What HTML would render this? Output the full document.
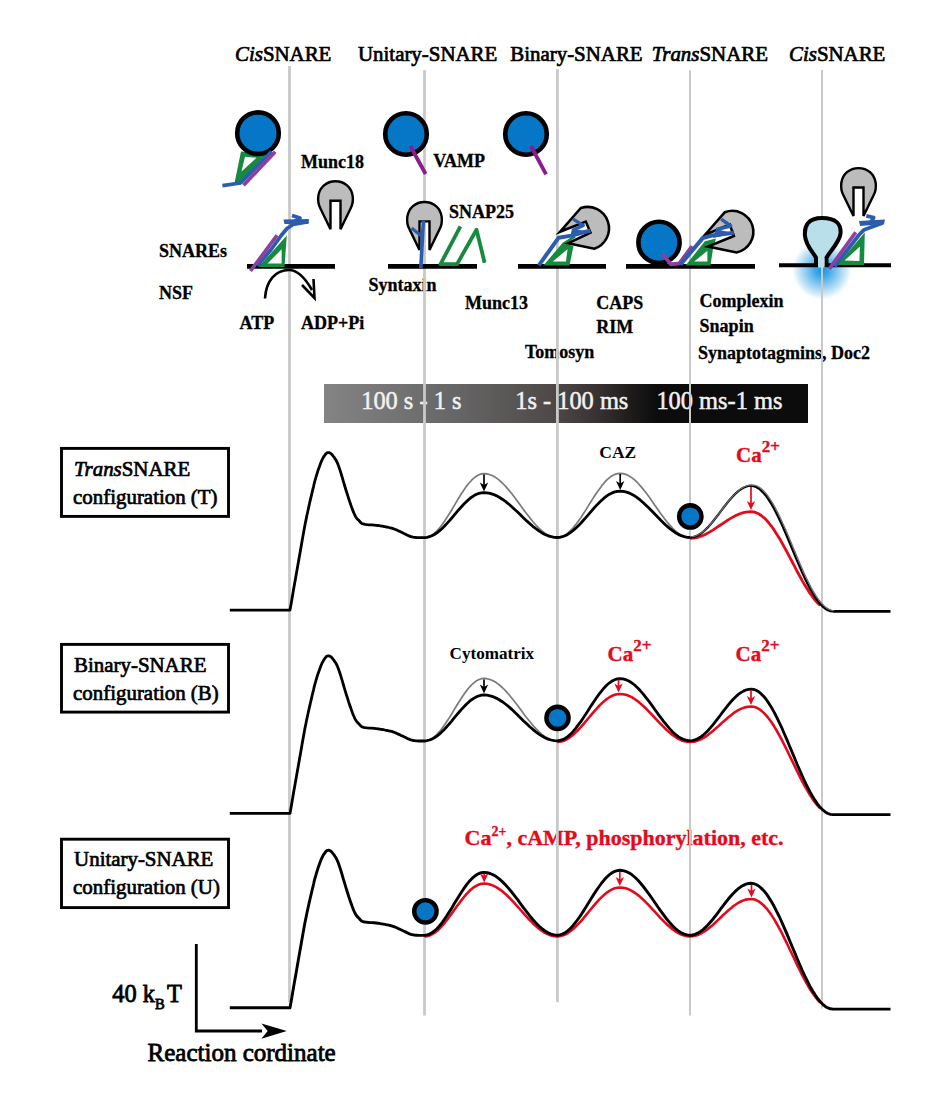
<!DOCTYPE html>
<html><head><meta charset="utf-8"><style>
html,body{margin:0;padding:0;background:#fff;}
svg{display:block;font-family:"Liberation Serif",serif;}
</style></head><body>
<svg width="944" height="1104" viewBox="0 0 944 1104">
<rect width="944" height="1104" fill="#fff"/>
<defs><linearGradient id="bar" x1="0" x2="1" y1="0" y2="0"><stop offset="0" stop-color="#848484"/><stop offset="0.28" stop-color="#666565"/><stop offset="0.48" stop-color="#4d4847"/><stop offset="0.57" stop-color="#363130"/><stop offset="0.64" stop-color="#1c1919"/><stop offset="0.69" stop-color="#0c0c0c"/><stop offset="1" stop-color="#0c0c0c"/></linearGradient><radialGradient id="glow" cx="0.5" cy="0.5" r="0.5"><stop offset="0" stop-color="#1596de"/><stop offset="0.22" stop-color="#3aa7e6"/><stop offset="0.55" stop-color="#8fcbf0"/><stop offset="0.85" stop-color="#d6edfa"/><stop offset="1" stop-color="#ffffff"/></radialGradient></defs>
<rect x="324" y="384" width="484" height="39" fill="url(#bar)"/>
<circle cx="822" cy="270" r="29.5" fill="url(#glow)"/>
<g font-size="24.4" fill="#f2f2f2" stroke="#f2f2f2" stroke-width="0.5"><text x="361.2" y="409.2">100 s - 1 s</text><text x="515.2" y="409.2">1s - 100 ms</text><text x="656.4" y="409.2">100 ms-1 ms</text></g>
<g font-size="20.9" fill="#000" stroke="#000" stroke-width="0.7"><text x="235" y="61.1"><tspan font-style="italic">Cis</tspan>SNARE</text><text x="358" y="61.1">Unitary-SNARE</text><text x="510.3" y="61.1">Binary-SNARE</text><text x="651.8" y="61.1"><tspan font-style="italic">Trans</tspan>SNARE</text><text x="789" y="61.1"><tspan font-style="italic">Cis</tspan>SNARE</text></g>
<g font-size="18" font-weight="bold" fill="#000" stroke="#000" stroke-width="0.3"><text x="301.1" y="167.8">Munc18</text><text x="158.9" y="256.5">SNAREs</text><text x="158.9" y="298.9">NSF</text><text x="239.6" y="329.4">ATP</text><text x="301.1" y="329.4">ADP+Pi</text><text x="433.3" y="167.4">VAMP</text><text x="449.1" y="217.5">SNAP25</text><text x="368.5" y="290.7">Syntaxin</text><text x="465.1" y="308.5">Munc13</text><text x="596.2" y="309.4">CAPS</text><text x="596.2" y="332.7">RIM</text><text x="525.0" y="357.7">Tomosyn</text><text x="699.6" y="306.9">Complexin</text><text x="699.6" y="332.3">Snapin</text><text x="697.9" y="359">Synaptotagmins, Doc2</text></g>
<g stroke="#000" stroke-width="0.7"><text x="74.1" y="475.6" font-size="20.9"><tspan font-style="italic">Trans</tspan>SNARE</text><text x="73.1" y="503.6" font-size="20.9">configuration (T)</text></g>
<g stroke="#000" stroke-width="0.7"><text x="74.1" y="671.8" font-size="20.9">Binary-SNARE</text><text x="73.1" y="699.7" font-size="20.9">configuration (B)</text></g>
<g stroke="#000" stroke-width="0.7"><text x="74.1" y="866.4" font-size="20.9">Unitary-SNARE</text><text x="73.1" y="894.4" font-size="20.9">configuration (U)</text></g>
<g font-weight="bold"><text x="599.3" y="458.4" font-size="17.5">CAZ</text><text x="449.6" y="658.9" font-size="17.1">Cytomatrix</text><g fill="#e30a1c"><text x="736" y="462.3" font-size="21" stroke="#e30a1c" stroke-width="0.35">Ca<tspan font-size="17" dy="-10">2+</tspan></text><text x="607.6" y="660.5" font-size="21" stroke="#e30a1c" stroke-width="0.35">Ca<tspan font-size="17" dy="-10">2+</tspan></text><text x="735.6" y="660.5" font-size="21" stroke="#e30a1c" stroke-width="0.35">Ca<tspan font-size="17" dy="-10">2+</tspan></text><text x="464.5" y="844.5" font-size="22" stroke="#e30a1c" stroke-width="0.35">Ca<tspan font-size="14" dy="-9">2+</tspan><tspan dy="9">, cAMP, phosphorylation, etc.</tspan></text></g></g>
<g stroke="#000" stroke-width="0.8"><text x="112.3" y="1001.8" font-size="24.4">40 k</text><text x="155" y="1009.2" font-size="14.5">B</text><text x="167" y="1001.8" font-size="24.4">T</text></g>
<text x="147.6" y="1061.4" font-size="25" stroke="#000" stroke-width="0.8">Reaction cordinate</text>
<line x1="289.5" y1="66" x2="289.5" y2="1002" stroke="#c8c9c8" stroke-width="2.8"/>
<line x1="424.5" y1="70.2" x2="424.5" y2="1015.5" stroke="#c8c9c8" stroke-width="2.8"/>
<line x1="557.4" y1="69.2" x2="557.4" y2="1002.2" stroke="#c8c9c8" stroke-width="2.8"/>
<line x1="690" y1="70.2" x2="690" y2="1015.5" stroke="#c8c9c8" stroke-width="2"/>
<line x1="822" y1="70" x2="822" y2="1008.6" stroke="#c8c9c8" stroke-width="2"/>
<polygon points="241,151.5 267,154 239.5,183 234.5,183" fill="#178a3e"/>
<polygon points="245,156.8 256.5,157.8 241.5,171.5" fill="#fff"/>
<circle cx="258" cy="133.2" r="20.8" fill="#0577c6" stroke="#000" stroke-width="4.6"/>
<polyline points="222.4,185.6 240.5,183 271.5,151.5" fill="none" stroke="#2c5cad" stroke-width="3.6" stroke-linejoin="round" stroke-linecap="butt" />
<polyline points="243.5,185.2 275.2,151.8" fill="none" stroke="#8e40a0" stroke-width="3.8" stroke-linejoin="round" stroke-linecap="butt" />
<line x1="247" y1="266.4" x2="335" y2="266.4" stroke="#000" stroke-width="4.8"/>
<polygon points="258.5,267 286.8,235.5 284.5,267" fill="#178a3e"/>
<polygon points="267.5,263.6 281.6,249.3 281.6,263.6" fill="#fff"/>
<polyline points="257.5,265.8 270.7,250 281.2,235.5 287,228.5 293,224.5 308.6,221.6" fill="none" stroke="#2c5cad" stroke-width="3.8" stroke-linejoin="round" stroke-linecap="butt" />
<polygon points="283.5,219.6 309,219 308,224 284.5,224" fill="#2c5cad"/>
<polyline points="292,215.5 300,218 290,224.5" fill="none" stroke="#2c5cad" stroke-width="3.8" stroke-linejoin="round" stroke-linecap="butt" />
<polyline points="250.5,271 277,235.3" fill="none" stroke="#8e40a0" stroke-width="3.6" stroke-linejoin="round" stroke-linecap="butt" />
<path d="M-5.0,29.5 L-15.2,8.5 C-17.4,4.5 -17.6,0 -17.2,-3.5 C-16,-12.5 -9,-18.4 0,-18.4 C9,-18.4 16,-12.5 17.2,-3.5 C17.6,0 17.4,4.5 15.2,8.5 L5.0,29.5 L5.0,1 L-5.0,1 Z" transform="translate(335.5,199.7)" fill="#bcbcbc" stroke="#000" stroke-width="2.4" stroke-linejoin="miter" stroke-miterlimit="4"/>
<path d="M265,298.5 C266,280 276,270 289,270 C297,270 304,276 312,290" fill="none" stroke="#000" stroke-width="2.6"/>
<path d="M313.5,279 L314.5,298 L302,285" fill="none" stroke="#000" stroke-width="2.6"/>
<circle cx="406" cy="134" r="20.8" fill="#0577c6" stroke="#000" stroke-width="4.6"/>
<polyline points="410.3,146 425.6,174" fill="none" stroke="#8a1c8e" stroke-width="3.8" stroke-linejoin="round" stroke-linecap="butt" />
<circle cx="526" cy="134" r="20.8" fill="#0577c6" stroke="#000" stroke-width="4.6"/>
<polyline points="530.9,146 546.1,174.4" fill="none" stroke="#8a1c8e" stroke-width="3.8" stroke-linejoin="round" stroke-linecap="butt" />
<line x1="388" y1="266.4" x2="477" y2="266.4" stroke="#000" stroke-width="4.8"/>
<path d="M-5.0,29.5 L-15.2,8.5 C-17.4,4.5 -17.6,0 -17.2,-3.5 C-16,-12.5 -9,-18.4 0,-18.4 C9,-18.4 16,-12.5 17.2,-3.5 C17.6,0 17.4,4.5 15.2,8.5 L5.0,29.5 L5.0,1 L-5.0,1 Z" transform="translate(424.5,220.4)" fill="#bcbcbc" stroke="#000" stroke-width="2.4" stroke-linejoin="miter" stroke-miterlimit="4"/>
<polyline points="420.8,268 423.4,220.5" fill="none" stroke="#2c5cad" stroke-width="3.6" stroke-linejoin="round" stroke-linecap="butt" />
<polyline points="411.5,228 421.5,236" fill="none" stroke="#2c5cad" stroke-width="3.2" stroke-linejoin="round" stroke-linecap="butt" />
<polyline points="460.4,226.4 440.5,264.2 457,264.2 476.5,229.7 484.6,262.7" fill="none" stroke="#178a3e" stroke-width="3.8" stroke-linejoin="round" stroke-linecap="butt" stroke-linejoin="miter"/>
<line x1="518" y1="266.4" x2="606" y2="266.4" stroke="#000" stroke-width="4.8"/>
<polygon points="543.5,265.5 562.5,243 573.5,246 569.5,265.5" fill="#178a3e"/>
<polyline points="563,244 575,236.4" fill="none" stroke="#178a3e" stroke-width="2.6" stroke-linejoin="round" stroke-linecap="butt" />
<polygon points="552.8,261.4 567.6,249.2 565.9,261.4" fill="#fff"/>
<path d="M560,231.8 L580.8,208 A20.5,20.5 0 1 1 594.3,248.7 L568,243.2 L590.5,232.6 L585.8,221.6 Z" fill="#bcbcbc" stroke="#000" stroke-width="2.6" stroke-linejoin="miter" stroke-miterlimit="10"/>
<polyline points="538.8,265.3 558.7,237.7 571.4,235.6 590.5,230.5" fill="none" stroke="#2c5cad" stroke-width="4.0" stroke-linejoin="round" stroke-linecap="butt" />
<polygon points="570,237 591,231.5 572,229" fill="#2c5cad"/>
<polyline points="572.3,230.5 583.3,225.4 573.1,219.1" fill="none" stroke="#2c5cad" stroke-width="3.4" stroke-linejoin="round" stroke-linecap="butt" />
<line x1="626" y1="266.4" x2="755" y2="266.4" stroke="#000" stroke-width="4.8"/>
<circle cx="659" cy="242.4" r="20.6" fill="#0577c6" stroke="#000" stroke-width="4.6"/>
<polygon points="685.5,265.5 704.8,241.3 716,238.5 713,248.7 710.5,265.5" fill="#178a3e"/>
<polygon points="694.2,261.6 707.4,250.8 707.4,261.6" fill="#fff"/>
<path d="M704.8,235 L724.9,212.2 A21,21 0 1 1 736.6,252.4 L708,246.6 L733.9,236 L729.7,224.4 Z" fill="#bcbcbc" stroke="#000" stroke-width="2.6" stroke-linejoin="miter" stroke-miterlimit="10"/>
<polyline points="662.4,254 670.9,264.4 679.4,263.4 692.1,246.1" fill="none" stroke="#8e40a0" stroke-width="3.8" stroke-linejoin="round" stroke-linecap="butt" />
<polyline points="680.4,264.6 702.7,238.1 711.7,235.5 733.9,232.8" fill="none" stroke="#2c5cad" stroke-width="4.0" stroke-linejoin="round" stroke-linecap="butt" />
<polygon points="713,238 734.5,233.5 716,229" fill="#2c5cad"/>
<polyline points="716.4,229.5 730.7,226 721.2,219.1" fill="none" stroke="#2c5cad" stroke-width="3.4" stroke-linejoin="round" stroke-linecap="butt" />
<path d="M779,265.3 L816,265.3 L816,257.7 C813,252 806,246 805,236 C804,226 808,218 822,218 C836,218 841,224 840.6,233 C840,242 830,251 826.5,257.7 L826.5,265.3 L891,265.3" fill="#b9e0ea" stroke="#000" stroke-width="4"/>
<rect x="818.2" y="258" width="6.2" height="9.5" fill="#b9e0ea"/>
<polygon points="837,265 864.8,232.5 864,265" fill="#178a3e"/>
<polygon points="844.6,260.6 859.9,246.6 859.4,260.9" fill="#fff"/>
<path d="M-5.0,29.5 L-15.2,8.5 C-17.4,4.5 -17.6,0 -17.2,-3.5 C-16,-12.5 -9,-18.4 0,-18.4 C9,-18.4 16,-12.5 17.2,-3.5 C17.6,0 17.4,4.5 15.2,8.5 L5.0,29.5 L5.0,1 L-5.0,1 Z" transform="translate(858.5,186.5)" fill="#bcbcbc" stroke="#000" stroke-width="2.4" stroke-linejoin="miter" stroke-miterlimit="4"/>
<polyline points="834.5,266.7 858.9,235 864.2,229.7 883.2,222.8" fill="none" stroke="#2c5cad" stroke-width="3.8" stroke-linejoin="round" stroke-linecap="butt" />
<polygon points="859,221 885,219.5 884,224 860,226" fill="#2c5cad"/>
<polyline points="866.3,215.9 873.7,217.5 869.4,224.9" fill="none" stroke="#2c5cad" stroke-width="3.8" stroke-linejoin="round" stroke-linecap="butt" />
<polyline points="829.2,268.9 855.7,232.3" fill="none" stroke="#8e40a0" stroke-width="3.6" stroke-linejoin="round" stroke-linecap="butt" />
<rect x="61.5" y="448.4" width="167" height="68" fill="none" stroke="#000" stroke-width="2.9"/>
<rect x="61.5" y="644.4" width="167" height="67.7" fill="none" stroke="#000" stroke-width="2.9"/>
<rect x="61.5" y="839.2" width="167" height="68.4" fill="none" stroke="#000" stroke-width="2.9"/>
<polyline points="424.5,537.5 427,537.2 429.5,536.4 431.9,535.1 434.4,533.2 436.9,530.9 439.4,528.1 441.9,525 444.3,521.5 446.8,517.8 449.3,513.8 451.8,509.7 454.2,505.6 456.7,501.4 459.2,497.3 461.7,493.3 464.2,489.6 466.6,486.1 469.1,483 471.6,480.2 474.1,477.9 476.6,476 479,474.7 481.5,473.9 484,473.6 487.1,473.9 490.1,474.7 493.1,476 496.2,477.9 499.2,480.2 502.3,483 505.4,486.1 508.4,489.6 511.5,493.3 514.5,497.3 517.6,501.4 520.6,505.6 523.6,509.7 526.7,513.8 529.8,517.8 532.8,521.5 535.9,525 538.9,528.1 542,530.9 545,533.2 548.1,535.1 551.1,536.4 554.2,537.2 557.2,537.5 559.8,537.2 562.4,536.4 565.1,535.1 567.7,533.2 570.3,530.9 572.9,528.1 575.5,524.9 578.1,521.5 580.8,517.7 583.4,513.7 586,509.6 588.6,505.4 591.2,501.2 593.8,497.1 596.5,493.1 599.1,489.4 601.7,485.9 604.3,482.7 606.9,479.9 609.5,477.6 612.1,475.7 614.8,474.4 617.4,473.6 620,473.3 622.9,473.6 625.8,474.4 628.8,475.7 631.7,477.6 634.6,479.9 637.5,482.7 640.4,485.9 643.3,489.4 646.2,493.1 649.2,497.1 652.1,501.2 655,505.4 657.9,509.6 660.8,513.7 663.8,517.7 666.7,521.5 669.6,524.9 672.5,528.1 675.4,530.9 678.3,533.2 681.2,535.1 684.2,536.4 687.1,537.2 690,537.5" fill="none" stroke="#7a7a7a" stroke-width="1.7" stroke-linejoin="round" stroke-linecap="butt" />
<polyline points="690,538.3 692.5,538.2 695.1,537.8 697.6,537.3 700.2,536.5 702.7,535.6 705.2,534.4 707.8,533.1 710.3,531.6 712.9,530.1 715.4,528.4 718,526.7 720.5,525 723,523.3 725.6,521.6 728.1,519.9 730.7,518.4 733.2,516.9 735.8,515.6 738.3,514.4 740.8,513.5 743.4,512.7 745.9,512.2 748.5,511.8 751,511.7 753.6,511.9 756.1,512.7 758.7,513.8 761.2,515.5 763.8,517.6 766.4,520.1 768.9,523 771.5,526.3 774.1,529.9 776.6,533.9 779.2,538.1 781.8,542.5 784.3,547.1 786.9,551.8 789.4,556.7 792,561.5 794.6,566.4 797.1,571.3 799.7,576 802.2,580.6 804.8,585 807.4,589.2 809.9,593.2 812.5,596.8 815.1,600.1 817.6,603 820.2,605.5" fill="none" stroke="#e30a1c" stroke-width="2.8" stroke-linejoin="round" stroke-linecap="butt" />
<polyline points="229.8,610.1 290,610.1 291.5,601.7 293.5,589.7 296,575.7 298.5,561.4 300.8,548.4 302.5,538.5 303.7,531.9 304.5,527.4 305.1,524.2 305.6,521.8 306.1,519.4 306.7,516.3 307.5,512.7 308.3,509 309.1,505.4 309.9,501.8 310.7,498.4 311.5,495.1 312.2,492 312.9,489.1 313.6,486.3 314.2,483.5 314.9,480.8 315.7,478.1 316.5,475.3 317.4,472.4 318.3,469.6 319.3,466.9 320.2,464.4 321,462.2 321.8,460.4 322.6,458.8 323.3,457.5 324,456.3 324.7,455.4 325.3,454.5 325.9,453.8 326.4,453.3 326.9,452.9 327.4,452.7 327.9,452.6 328.4,452.6 329,452.6 329.5,452.8 330.1,453 330.8,453.4 331.4,454 332.2,454.8 333,455.9 334,457.1 334.9,458.5 336,460.1 337,462.1 338,464.4 339,467.2 340.1,470.4 341.2,474 342.3,477.6 343.3,481.2 344.3,484.5 345.2,487.5 346.1,490.5 347,493.3 347.9,496.1 348.7,498.8 349.6,501.4 350.5,504 351.4,506.6 352.3,509.1 353.2,511.4 354.1,513.5 354.9,515.3 355.7,516.7 356.4,517.8 357.1,518.7 357.8,519.4 358.5,520.1 359.2,520.8 359.8,521.5 360.3,522.1 360.8,522.7 361.4,523.2 362.3,523.6 363.5,524 365.2,524.3 367.3,524.6 369.6,524.8 372,524.9 374.2,525.1 376.2,525.3 377.9,525.5 379.3,525.7 380.7,526 382,526.2 383.3,526.4 384.7,526.7 386.1,527 387.5,527.2 388.8,527.5 390.2,527.8 391.6,528.1 393.1,528.6 394.6,529.2 396.2,529.8 397.8,530.6 399.4,531.3 401,532.1 402.5,532.8 404,533.5 405.5,534.2 406.9,534.9 408.3,535.6 409.6,536.1 410.9,536.6 412,536.9 413.1,537.2 414,537.3 414.9,537.4 415.9,537.5 417,537.6 418.3,537.7 419.7,537.7 421.1,537.7 422.5,537.7 423.7,537.7 424.5,537.7 427,537.3 429.5,536.7 431.9,535.8 434.4,534.5 436.9,532.9 439.4,530.9 441.9,528.7 444.3,526.3 446.8,523.6 449.3,520.9 451.8,518 454.2,515.1 456.7,512.1 459.2,509.2 461.7,506.5 464.2,503.8 466.6,501.4 469.1,499.2 471.6,497.2 474.1,495.6 476.6,494.3 479,493.4 481.5,492.8 484,492.6 487.1,492.8 490.1,493.4 493.1,494.3 496.2,495.6 499.2,497.2 502.3,499.2 505.4,501.4 508.4,503.8 511.5,506.5 514.5,509.2 517.6,512.1 520.6,515 523.6,518 526.7,520.9 529.8,523.6 532.8,526.3 535.9,528.7 538.9,530.9 542,532.9 545,534.5 548.1,535.8 551.1,536.7 554.2,537.3 557.2,537.5 559.8,537.3 562.4,536.7 565.1,535.7 567.7,534.4 570.3,532.7 572.9,530.7 575.5,528.4 578.1,525.9 580.8,523.2 583.4,520.3 586,517.3 588.6,514.3 591.2,511.3 593.8,508.3 596.5,505.4 599.1,502.7 601.7,500.2 604.3,497.9 606.9,495.9 609.5,494.2 612.1,492.9 614.8,491.9 617.4,491.3 620,491.1 622.9,491.3 625.8,491.9 628.8,492.9 631.7,494.2 634.6,495.9 637.5,497.9 640.4,500.2 643.3,502.7 646.2,505.4 649.2,508.3 652.1,511.3 655,514.3 657.9,517.3 660.8,520.3 663.8,523.2 666.7,525.9 669.6,528.4 672.5,530.7 675.4,532.7 678.3,534.4 681.2,535.7 684.2,536.7 687.1,537.3 690,537.5" fill="none" stroke="#000" stroke-width="2.8" stroke-linejoin="round" stroke-linecap="butt" />
<polyline points="690,537.5 692.5,537.3 695.1,536.6 697.6,535.5 700.2,534 702.7,532.2 705.2,529.9 707.8,527.4 710.3,524.6 712.9,521.5 715.4,518.3 718,515 720.5,511.7 723,508.3 725.6,505 728.1,501.8 730.7,498.7 733.2,495.9 735.8,493.4 738.3,491.1 740.8,489.3 743.4,487.8 745.9,486.7 748.5,486 751,485.8 753.6,486.1 756.1,487 758.7,488.5 761.2,490.6 763.8,493.2 766.4,496.4 768.9,500.1 771.5,504.2 774.1,508.8 776.6,513.7 779.2,519 781.8,524.6 784.3,530.4 786.9,536.3 789.4,542.4 792,548.6 794.6,554.8 797.1,560.9 799.7,566.8 802.2,572.6 804.8,578.2 807.4,583.5 809.9,588.4 812.5,593 815.1,597.1 817.6,600.8 820.2,604 822.8,606.6 825.3,608.7 827.9,610.2 830.4,611.1 833,611.4" fill="none" stroke="#000" stroke-width="2.2" stroke-linejoin="round" stroke-linecap="butt" />
<polyline points="833,611.4 890.5,611.4" fill="none" stroke="#000" stroke-width="2.8" stroke-linejoin="round" stroke-linecap="butt" />
<polyline points="690.6,536.7 693.1,536.5 695.7,535.8 698.2,534.7 700.8,533.2 703.3,531.4 705.9,529.1 708.4,526.6 710.9,523.8 713.5,520.7 716,517.5 718.6,514.2 721.1,510.9 723.6,507.5 726.2,504.2 728.7,501 731.3,497.9 733.8,495.1 736.4,492.6 738.9,490.3 741.4,488.5 744,487 746.5,485.9 749.1,485.2 751.6,485 754.9,485.3 757.4,486.2 760,487.7 762.5,489.8 765.1,492.4 767.7,495.6 770.2,499.3 772.8,503.4 775.4,508 777.9,512.9 780.5,518.2 783,523.8 785.6,529.6 788.2,535.5 790.7,541.6 793.3,547.8 795.9,554 798.4,560.1 801,566 803.5,571.8 806.1,577.4 808.7,582.7 811.2,587.6 813.8,592.2 816.4,596.3 818.9,600 821.5,603.2 824,605.8 826.6,607.9 829.2,609.4 831.7,610.3 834.3,610.6" fill="none" stroke="#6a6a6a" stroke-width="1.3" stroke-linejoin="round" stroke-linecap="butt" />
<line x1="484" y1="474.5" x2="484" y2="485.5" stroke="#000" stroke-width="1.7"/><path d="M479.8,482.5 L484,485 L488.2,482.5 L484,491.5 Z" fill="#000"/>
<line x1="620.2" y1="474" x2="620.2" y2="484" stroke="#000" stroke-width="1.7"/><path d="M616,481 L620.2,483.5 L624.4,481 L620.2,490 Z" fill="#000"/>
<line x1="751" y1="487" x2="751" y2="504" stroke="#e30a1c" stroke-width="1.7"/><path d="M746.8,501 L751,503.5 L755.2,501 L751,510 Z" fill="#e30a1c"/>
<circle cx="690.3" cy="516.4" r="11.2" fill="#0577c6" stroke="#000" stroke-width="4.4"/>
<polyline points="424.5,740.8 427,740.5 429.5,739.7 431.9,738.4 434.4,736.6 436.9,734.4 439.4,731.7 441.9,728.6 444.3,725.2 446.8,721.5 449.3,717.7 451.8,713.7 454.2,709.6 456.7,705.5 459.2,701.5 461.7,697.7 464.2,694 466.6,690.6 469.1,687.5 471.6,684.8 474.1,682.6 476.6,680.8 479,679.5 481.5,678.7 484,678.4 487.1,678.7 490.1,679.5 493.1,680.8 496.2,682.6 499.2,684.8 502.3,687.5 505.4,690.6 508.4,694 511.5,697.7 514.5,701.5 517.6,705.5 520.6,709.6 523.6,713.7 526.7,717.7 529.8,721.5 532.8,725.2 535.9,728.6 538.9,731.7 542,734.4 545,736.6 548.1,738.4 551.1,739.7 554.2,740.5" fill="none" stroke="#7a7a7a" stroke-width="1.7" stroke-linejoin="round" stroke-linecap="butt" />
<polyline points="557.2,742 559.8,741.8 562.4,741.2 565.1,740.2 567.7,738.8 570.3,737 572.9,735 575.5,732.6 578.1,730 580.8,727.2 583.4,724.2 586,721.1 588.6,718 591.2,714.9 593.8,711.8 596.5,708.8 599.1,706 601.7,703.4 604.3,701 606.9,699 609.5,697.2 612.1,695.8 614.8,694.8 617.4,694.2 620,694 622.9,694.2 625.8,694.8 628.8,695.8 631.7,697.2 634.6,699 637.5,701 640.4,703.4 643.3,706 646.2,708.8 649.2,711.8 652.1,714.9 655,718 657.9,721.1 660.8,724.2 663.8,727.2 666.7,730 669.6,732.6 672.5,735 675.4,737 678.3,738.8 681.2,740.2 684.2,741.2 687.1,741.8 690,742 692.5,741.8 695.1,741.4 697.6,740.6 700.2,739.6 702.7,738.3 705.2,736.8 707.8,735.1 710.3,733.1 712.9,731 715.4,728.8 718,726.6 720.5,724.2 723,721.9 725.6,719.7 728.1,717.5 730.7,715.4 733.2,713.4 735.8,711.7 738.3,710.2 740.8,708.9 743.4,707.9 745.9,707.1 748.5,706.7 751,706.5 753.6,706.8 756.1,707.5 758.7,708.8 761.2,710.6 763.8,712.9 766.4,715.6 768.9,718.8 771.5,722.3 774.1,726.3 776.6,730.5 779.2,735.1 781.8,739.9 784.3,744.9 786.9,750 789.4,755.3 792,760.6 794.6,765.9 797.1,771.2 799.7,776.3 802.2,781.3 804.8,786.1 807.4,790.7 809.9,794.9 812.5,798.9 815.1,802.4 817.6,805.6 820.2,808.3" fill="none" stroke="#e30a1c" stroke-width="2.6" stroke-linejoin="round" stroke-linecap="butt" />
<polyline points="229.8,813.4 290,813.4 291.5,805 293.5,793 296,779 298.5,764.7 300.8,751.7 302.5,741.8 303.7,735.2 304.5,730.7 305.1,727.5 305.6,725.1 306.1,722.7 306.7,719.6 307.5,716 308.3,712.3 309.1,708.7 309.9,705.1 310.7,701.7 311.5,698.4 312.2,695.3 312.9,692.4 313.6,689.6 314.2,686.8 314.9,684.1 315.7,681.4 316.5,678.6 317.4,675.7 318.3,672.9 319.3,670.2 320.2,667.7 321,665.5 321.8,663.7 322.6,662.1 323.3,660.8 324,659.6 324.7,658.7 325.3,657.8 325.9,657.1 326.4,656.6 326.9,656.2 327.4,656 327.9,655.9 328.4,655.9 329,655.9 329.5,656.1 330.1,656.3 330.8,656.7 331.4,657.3 332.2,658.1 333,659.2 334,660.4 334.9,661.8 336,663.4 337,665.4 338,667.7 339,670.5 340.1,673.7 341.2,677.3 342.3,680.9 343.3,684.5 344.3,687.8 345.2,690.8 346.1,693.8 347,696.6 347.9,699.4 348.7,702.1 349.6,704.7 350.5,707.3 351.4,709.9 352.3,712.4 353.2,714.7 354.1,716.8 354.9,718.6 355.7,720 356.4,721.1 357.1,722 357.8,722.7 358.5,723.4 359.2,724.1 359.8,724.8 360.3,725.4 360.8,726 361.4,726.5 362.3,726.9 363.5,727.3 365.2,727.6 367.3,727.9 369.6,728.1 372,728.2 374.2,728.4 376.2,728.6 377.9,728.8 379.3,729 380.7,729.3 382,729.5 383.3,729.7 384.7,730 386.1,730.3 387.5,730.5 388.8,730.8 390.2,731.1 391.6,731.4 393.1,731.9 394.6,732.5 396.2,733.1 397.8,733.9 399.4,734.6 401,735.4 402.5,736.1 404,736.8 405.5,737.5 406.9,738.2 408.3,738.9 409.6,739.4 410.9,739.9 412,740.2 413.1,740.5 414,740.6 414.9,740.7 415.9,740.8 417,740.9 418.3,741 419.7,741 421.1,741 422.5,741 423.7,741 424.5,741 427,740.6 429.5,740 431.9,739.1 434.4,737.7 436.9,736.1 439.4,734.1 441.9,731.8 444.3,729.4 446.8,726.7 449.3,723.8 451.8,720.9 454.2,717.9 456.7,714.9 459.2,712 461.7,709.1 464.2,706.5 466.6,704 469.1,701.7 471.6,699.7 474.1,698.1 476.6,696.7 479,695.8 481.5,695.2 484,695 487.1,695.2 490.1,695.8 493.1,696.7 496.2,698.1 499.2,699.7 502.3,701.7 505.4,704 508.4,706.4 511.5,709.1 514.5,712 517.6,714.9 520.6,717.9 523.6,720.9 526.7,723.8 529.8,726.7 532.8,729.3 535.9,731.8 538.9,734.1 542,736.1 545,737.7 548.1,739.1 551.1,740 554.2,740.6 557.2,740.8 559.8,740.5 562.4,739.7 565.1,738.4 567.7,736.6 570.3,734.4 572.9,731.7 575.5,728.6 578.1,725.2 580.8,721.6 583.4,717.7 586,713.8 588.6,709.7 591.2,705.6 593.8,701.7 596.5,697.8 599.1,694.1 601.7,690.8 604.3,687.7 606.9,685 609.5,682.8 612.1,681 614.8,679.7 617.4,678.9 620,678.6 622.9,678.9 625.8,679.7 628.8,681 631.7,682.8 634.6,685 637.5,687.7 640.4,690.8 643.3,694.1 646.2,697.8 649.2,701.7 652.1,705.6 655,709.7 657.9,713.8 660.8,717.7 663.8,721.6 666.7,725.2 669.6,728.6 672.5,731.7 675.4,734.4 678.3,736.6 681.2,738.4 684.2,739.7 687.1,740.5 690,740.8 692.5,740.6 695.1,739.9 697.6,738.8 700.2,737.3 702.7,735.5 705.2,733.2 707.8,730.7 710.3,727.9 712.9,724.8 715.4,721.6 718,718.3 720.5,715 723,711.6 725.6,708.3 728.1,705.1 730.7,702 733.2,699.2 735.8,696.7 738.3,694.4 740.8,692.6 743.4,691.1 745.9,690 748.5,689.3 751,689.1 753.6,689.4 756.1,690.3 758.7,691.8 761.2,693.9 763.8,696.5 766.4,699.7 768.9,703.4 771.5,707.5 774.1,712.1 776.6,717 779.2,722.3 781.8,727.9 784.3,733.7 786.9,739.6 789.4,745.7 792,751.9 794.6,758.1 797.1,764.2 799.7,770.1 802.2,775.9 804.8,781.5 807.4,786.8 809.9,791.7 812.5,796.3 815.1,800.4 817.6,804.1 820.2,807.3 822.8,809.9 825.3,812 827.9,813.5 830.4,814.4 833,814.7 890.5,814.7" fill="none" stroke="#000" stroke-width="2.8" stroke-linejoin="round" stroke-linecap="butt" />
<line x1="484" y1="679.5" x2="484" y2="687.5" stroke="#000" stroke-width="1.7"/><path d="M479.8,684.5 L484,687 L488.2,684.5 L484,693.5 Z" fill="#000"/>
<line x1="618.5" y1="679.5" x2="618.5" y2="686.5" stroke="#e30a1c" stroke-width="1.7"/><path d="M614.3,683.5 L618.5,686 L622.7,683.5 L618.5,692.5 Z" fill="#e30a1c"/>
<line x1="751" y1="690" x2="751" y2="699" stroke="#e30a1c" stroke-width="1.7"/><path d="M746.8,696 L751,698.5 L755.2,696 L751,705 Z" fill="#e30a1c"/>
<circle cx="557.5" cy="717.9" r="11.1" fill="#0577c6" stroke="#000" stroke-width="4.4"/>
<polyline points="424.5,936.4 427,936.2 429.5,935.5 431.9,934.4 434.4,932.9 436.9,930.9 439.4,928.7 441.9,926.1 444.3,923.2 446.8,920.1 449.3,916.8 451.8,913.4 454.2,910 456.7,906.6 459.2,903.2 461.7,899.9 464.2,896.8 466.6,893.9 469.1,891.3 471.6,889.1 474.1,887.1 476.6,885.6 479,884.5 481.5,883.8 484,883.6 487.1,883.8 490.1,884.5 493.1,885.6 496.2,887.1 499.2,889.1 502.3,891.3 505.4,893.9 508.4,896.8 511.5,899.9 514.5,903.2 517.6,906.6 520.6,910 523.6,913.4 526.7,916.8 529.8,920.1 532.8,923.2 535.9,926.1 538.9,928.7 542,930.9 545,932.9 548.1,934.4 551.1,935.5 554.2,936.2 557.2,936.4 559.8,936.2 562.4,935.6 565.1,934.5 567.7,933.1 570.3,931.3 572.9,929.2 575.5,926.8 578.1,924.2 580.8,921.3 583.4,918.3 586,915.1 588.6,912 591.2,908.8 593.8,905.6 596.5,902.6 599.1,899.7 601.7,897.1 604.3,894.7 606.9,892.6 609.5,890.8 612.1,889.4 614.8,888.3 617.4,887.7 620,887.5 622.9,887.7 625.8,888.3 628.8,889.4 631.7,890.8 634.6,892.6 637.5,894.7 640.4,897.1 643.3,899.7 646.2,902.6 649.2,905.6 652.1,908.8 655,911.9 657.9,915.1 660.8,918.3 663.8,921.3 666.7,924.2 669.6,926.8 672.5,929.2 675.4,931.3 678.3,933.1 681.2,934.5 684.2,935.6 687.1,936.2 690,936.4 692.5,936.2 695.1,935.8 697.6,935 700.2,933.9 702.7,932.5 705.2,930.9 707.8,929.1 710.3,927 712.9,924.9 715.4,922.5 718,920.1 720.5,917.7 723,915.3 725.6,912.9 728.1,910.5 730.7,908.4 733.2,906.3 735.8,904.5 738.3,902.9 740.8,901.5 743.4,900.4 745.9,899.6 748.5,899.2 751,899 753.6,899.3 756.1,900.1 758.7,901.4 761.2,903.2 763.8,905.5 766.4,908.3 768.9,911.5 771.5,915.1 774.1,919.1 776.6,923.5 779.2,928.1 781.8,933 784.3,938.1 786.9,943.3 789.4,948.7 792,954 794.6,959.4 797.1,964.8 799.7,970 802.2,975.1 804.8,980 807.4,984.6 809.9,989 812.5,993 815.1,996.6 817.6,999.8 820.2,1002.6" fill="none" stroke="#e30a1c" stroke-width="2.6" stroke-linejoin="round" stroke-linecap="butt" />
<polyline points="229.8,1007.8 290,1007.8 291.5,999.4 293.5,987.4 296,973.4 298.5,959.1 300.8,946.1 302.5,936.2 303.7,929.6 304.5,925.1 305.1,921.9 305.6,919.5 306.1,917.1 306.7,914 307.5,910.4 308.3,906.7 309.1,903.1 309.9,899.5 310.7,896.1 311.5,892.8 312.2,889.7 312.9,886.8 313.6,884 314.2,881.2 314.9,878.5 315.7,875.8 316.5,873 317.4,870.1 318.3,867.3 319.3,864.6 320.2,862.1 321,859.9 321.8,858.1 322.6,856.5 323.3,855.2 324,854 324.7,853.1 325.3,852.2 325.9,851.5 326.4,851 326.9,850.6 327.4,850.4 327.9,850.3 328.4,850.3 329,850.3 329.5,850.5 330.1,850.7 330.8,851.1 331.4,851.7 332.2,852.5 333,853.6 334,854.8 334.9,856.2 336,857.8 337,859.8 338,862.1 339,864.9 340.1,868.1 341.2,871.7 342.3,875.3 343.3,878.9 344.3,882.2 345.2,885.2 346.1,888.2 347,891 347.9,893.8 348.7,896.5 349.6,899.1 350.5,901.7 351.4,904.3 352.3,906.8 353.2,909.1 354.1,911.2 354.9,913 355.7,914.4 356.4,915.5 357.1,916.4 357.8,917.1 358.5,917.8 359.2,918.5 359.8,919.2 360.3,919.8 360.8,920.4 361.4,920.9 362.3,921.3 363.5,921.7 365.2,922 367.3,922.3 369.6,922.5 372,922.6 374.2,922.8 376.2,923 377.9,923.2 379.3,923.4 380.7,923.7 382,923.9 383.3,924.1 384.7,924.4 386.1,924.7 387.5,924.9 388.8,925.2 390.2,925.5 391.6,925.8 393.1,926.3 394.6,926.9 396.2,927.5 397.8,928.3 399.4,929 401,929.8 402.5,930.5 404,931.2 405.5,931.9 406.9,932.6 408.3,933.3 409.6,933.8 410.9,934.3 412,934.6 413.1,934.9 414,935 414.9,935.1 415.9,935.2 417,935.3 418.3,935.4 419.7,935.4 421.1,935.4 422.5,935.4 423.7,935.4 424.5,935.4 427,934.9 429.5,934.1 431.9,932.8 434.4,931 436.9,928.7 439.4,926 441.9,922.9 444.3,919.5 446.8,915.8 449.3,911.9 451.8,907.9 454.2,903.8 456.7,899.7 459.2,895.7 461.7,891.8 464.2,888.1 466.6,884.7 469.1,881.6 471.6,878.9 474.1,876.6 476.6,874.8 479,873.5 481.5,872.7 484,872.4 487.1,872.7 490.1,873.5 493.1,874.8 496.2,876.6 499.2,878.9 502.3,881.6 505.4,884.7 508.4,888.1 511.5,891.8 514.5,895.7 517.6,899.7 520.6,903.8 523.6,907.9 526.7,911.9 529.8,915.8 532.8,919.5 535.9,922.9 538.9,926 542,928.7 545,931 548.1,932.8 551.1,934.1 554.2,934.9 557.2,935.2 559.8,934.9 562.4,934.1 565.1,932.7 567.7,930.9 570.3,928.5 572.9,925.7 575.5,922.5 578.1,919 580.8,915.2 583.4,911.1 586,907 588.6,902.8 591.2,898.5 593.8,894.4 596.5,890.3 599.1,886.5 601.7,883 604.3,879.8 606.9,877 609.5,874.6 612.1,872.8 614.8,871.4 617.4,870.6 620,870.3 622.9,870.6 625.8,871.4 628.8,872.8 631.7,874.6 634.6,877 637.5,879.8 640.4,883 643.3,886.5 646.2,890.3 649.2,894.4 652.1,898.5 655,902.7 657.9,907 660.8,911.1 663.8,915.2 666.7,919 669.6,922.5 672.5,925.7 675.4,928.5 678.3,930.9 681.2,932.7 684.2,934.1 687.1,934.9 690,935.2 692.5,935 695.1,934.3 697.6,933.2 700.2,931.7 702.7,929.8 705.2,927.6 707.8,925 710.3,922.2 712.9,919.2 715.4,916 718,912.6 720.5,909.2 723,905.9 725.6,902.5 728.1,899.3 730.7,896.3 733.2,893.5 735.8,890.9 738.3,888.7 740.8,886.8 743.4,885.3 745.9,884.2 748.5,883.5 751,883.3 753.6,883.6 756.1,884.5 758.7,886 761.2,888.1 763.8,890.7 766.4,893.9 768.9,897.6 771.5,901.7 774.1,906.3 776.6,911.3 779.2,916.5 781.8,922.1 784.3,927.9 786.9,933.9 789.4,940 792,946.2 794.6,952.4 797.1,958.5 799.7,964.5 802.2,970.3 804.8,975.9 807.4,981.1 809.9,986.1 812.5,990.7 815.1,994.8 817.6,998.5 820.2,1001.7 822.8,1004.3 825.3,1006.4 827.9,1007.9 830.4,1008.8 833,1009.1 890.5,1009.1" fill="none" stroke="#000" stroke-width="2.9" stroke-linejoin="round" stroke-linecap="butt" />
<line x1="484.2" y1="873.5" x2="484.2" y2="876.5" stroke="#e30a1c" stroke-width="1.7"/><path d="M480,873.5 L484.2,876 L488.4,873.5 L484.2,882.5 Z" fill="#e30a1c"/>
<line x1="619.8" y1="871.5" x2="619.8" y2="880" stroke="#e30a1c" stroke-width="1.7"/><path d="M615.6,877 L619.8,879.5 L624,877 L619.8,886 Z" fill="#e30a1c"/>
<line x1="751.5" y1="884.5" x2="751.5" y2="891.5" stroke="#e30a1c" stroke-width="1.7"/><path d="M747.3,888.5 L751.5,891 L755.7,888.5 L751.5,897.5 Z" fill="#e30a1c"/>
<circle cx="425.4" cy="911.3" r="11.2" fill="#0577c6" stroke="#000" stroke-width="4.4"/>
<polyline points="196.3,944 196.3,1031 262,1031" fill="none" stroke="#000" stroke-width="2.8"/>
<path d="M286.8,1031 L261.4,1023.4 L267.7,1031 L261.4,1038.7 Z" fill="#000"/>
</svg></body></html>
